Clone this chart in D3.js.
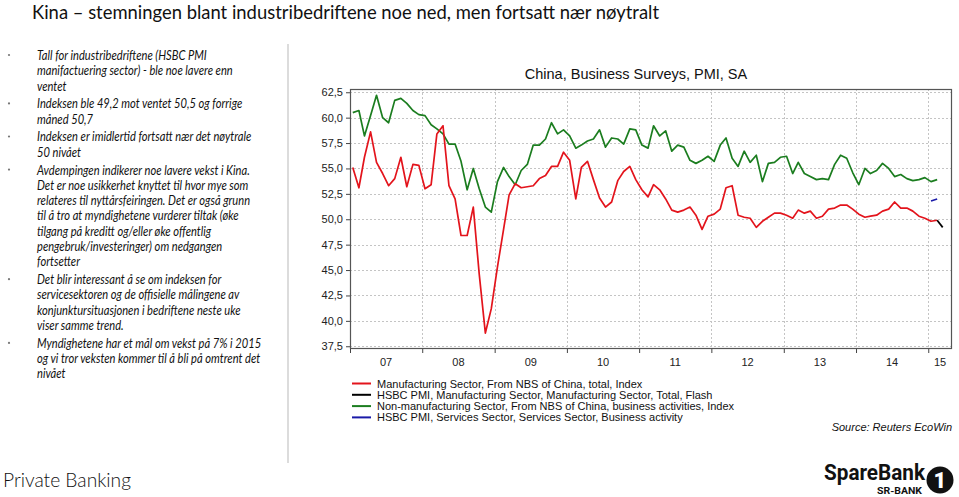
<!DOCTYPE html>
<html><head><meta charset="utf-8">
<script src="https://cdn.jsdelivr.net/npm/d3@7"></script>
<style>
html,body{margin:0;padding:0;background:#fff;}
svg{display:block;}
</style></head>
<body>
<svg id="c" width="959" height="497"></svg>
<script>
// ---------- DATA ----------
const firstMonth = "2007-01";
// Manufacturing Sector, From NBS of China, total, Index (Jan 2007 - Feb 2015)
const nbsManufacturing = [
  55.1, 53.1, 56.1, 58.6, 55.6, 54.5, 53.3, 54.0, 56.1, 53.2, 55.4, 55.3,
  53.0, 53.4, 58.4, 59.2, 53.3, 52.0, 48.4, 48.4, 51.2, 44.6, 38.8, 41.2,
  45.3, 49.0, 52.4, 53.5, 53.1, 53.2, 53.3, 54.0, 54.3, 55.2, 55.2, 56.6,
  55.8, 52.0, 55.1, 55.7, 53.9, 52.1, 51.2, 51.7, 53.8, 54.7, 55.2, 53.9,
  52.9, 52.2, 53.4, 52.9, 52.0, 50.9, 50.7, 50.9, 51.2, 50.4, 49.0, 50.3,
  50.5, 51.0, 53.1, 53.3, 50.4, 50.2, 50.1, 49.2, 49.8, 50.2, 50.6, 50.6,
  50.4, 50.1, 50.9, 50.6, 50.8, 50.1, 50.3, 51.0, 51.1, 51.4, 51.4, 51.0,
  50.5, 50.2, 50.3, 50.4, 50.8, 51.0, 51.7, 51.1, 51.1, 50.8, 50.3, 50.1,
  49.8, 49.9
];
// Non-manufacturing Sector, From NBS of China, business activities, Index
const nbsNonManufacturing = [
  60.5, 60.7, 58.2, 60.2, 62.2, 60.0, 59.5, 61.7, 61.9, 61.4, 60.7, 60.3,
  60.2, 59.3, 58.9, 58.4, 57.4, 57.4, 55.7, 52.9, 55.0, 53.0, 51.2, 50.7,
  53.7, 55.1, 54.2, 53.4, 54.8, 55.4, 57.3, 57.3, 57.9, 59.5, 58.4, 58.8,
  58.2, 57.0, 57.3, 57.7, 57.9, 58.8, 57.1, 58.0, 57.9, 57.4, 58.9, 58.8,
  57.3, 57.0, 59.2, 58.2, 58.7, 56.7, 57.3, 57.1, 55.8, 55.5, 55.8, 56.2,
  55.7, 57.3, 58.0, 56.0, 55.2, 56.7, 55.6, 56.3, 53.7, 55.5, 55.6, 56.1,
  56.2, 54.5, 55.6, 54.5, 54.2, 53.9, 54.0, 53.9, 55.4, 56.3, 56.0, 54.6,
  53.4, 55.0, 54.5, 54.8, 55.5, 55.0, 54.2, 54.4, 54.0, 53.8, 53.9, 54.1,
  53.7, 53.9
];
// HSBC PMI, Manufacturing Sector, Total, Flash
const hsbcFlashMonths = ["2015-02", "2015-03"];
const hsbcFlash = [49.9, 49.2];
// HSBC PMI, Services Sector, Business activity
const hsbcServicesMonths = ["2015-01", "2015-02"];
const hsbcServices = [51.8, 52.0];

const yearLabels = ["07", "08", "09", "10", "11", "12", "13", "14", "15"];
const yTickValues = [37.5, 40.0, 42.5, 45.0, 47.5, 50.0, 52.5, 55.0, 57.5, 60.0, 62.5];

const legendLabels = [
  "Manufacturing Sector, From NBS of China, total, Index",
  "HSBC PMI, Manufacturing Sector, Manufacturing Sector, Total, Flash",
  "Non-manufacturing Sector, From NBS of China, business activities, Index",
  "HSBC PMI, Services Sector, Services Sector, Business activity"
];
const legendColors = ["#e3141c", "#000000", "#1b7d1f", "#1a1aa8"];

const bullets = [
  ["Tall for industribedriftene (HSBC PMI", "manifactuering sector) - ble noe lavere enn", "ventet"],
  ["Indeksen ble 49,2 mot ventet 50,5 og forrige", "måned 50,7"],
  ["Indeksen er imidlertid fortsatt nær det nøytrale", "50 nivået"],
  ["Avdempingen indikerer noe lavere vekst i Kina.", "Det er noe usikkerhet knyttet til hvor mye som",
   "relateres til nyttårsfeiringen. Det er også grunn", "til å tro at myndighetene vurderer tiltak (øke",
   "tilgang på kreditt og/eller øke offentlig", "pengebruk/investeringer) om nedgangen", "fortsetter"],
  ["Det blir interessant å se om indeksen for", "servicesektoren og de offisielle målingene av",
   "konjunktursituasjonen i bedriftene neste uke", "viser samme trend."],
  ["Myndighetene har et mål om vekst på 7% i 2015", "og vi tror veksten kommer til å bli på omtrent det", "nivået"]
];

// ---------- LAYOUT ----------
const svg = d3.select("#c");
const parseMonth = d3.timeParse("%Y-%m");
const mid = d => d3.timeDay.offset(d, 14);
const start = parseMonth(firstMonth);
const monthsFrom = (n) => d3.range(n).map(i => mid(d3.timeMonth.offset(start, i)));

const plot = {left: 350, right: 952, top: 89, bottom: 349};
const x = d3.scaleTime()
  .domain([new Date(2007, 0, 1), new Date(2015, 4, 1)])
  .range([plot.left, plot.right]);
const y = d3.scaleLinear().domain([37.23, 62.82]).range([plot.bottom, plot.top]);

// Page title
svg.append("text").attr("x", 32).attr("y", 19)
  .attr("font-family", "Lato, 'Open Sans', sans-serif").attr("font-size", 20)
  .attr("fill", "#111")
  .attr("textLength", 627).attr("lengthAdjust", "spacingAndGlyphs")
  .text("Kina – stemningen blant industribedriftene noe ned, men fortsatt nær nøytralt");

// Left text: uniform horizontal scale calibrated on one reference line width
let ty = 56;
const bulletG = svg.append("g");
const lt = svg.append("g").attr("font-family", "Lato, 'Open Sans', sans-serif")
  .attr("font-size", 12.5).attr("font-style", "italic").attr("fill", "#111");
let calib = null;
bullets.forEach((b, bi) => {
  bulletG.append("circle").attr("cx", 9).attr("cy", ty - 1).attr("r", 1.1).attr("fill", "#777");
  b.forEach((line, li) => {
    const t = lt.append("text").attr("x", 0).attr("y", ty + 4).text(line);
    if (bi === 3 && li === 0) calib = t;
    ty += 15.3;
  });
  ty += 2.5;
});
const k = 213 / calib.node().getComputedTextLength();
lt.attr("transform", `translate(37,0) scale(${k},1)`);

// separator
svg.append("line").attr("x1", 288).attr("x2", 288).attr("y1", 44).attr("y2", 463)
  .attr("stroke", "#d0d0d0").attr("stroke-width", 1.5);

// Chart title
svg.append("text").attr("x", 636).attr("y", 79).attr("text-anchor", "middle")
  .attr("font-family", "'Liberation Sans', Arial, sans-serif").attr("font-size", 14.5)
  .attr("fill", "#111").text("China, Business Surveys, PMI, SA");

// Gridlines
const grid = svg.append("g").attr("stroke", "#c4c4c4").attr("stroke-dasharray", "2,2").attr("stroke-width", 1);
grid.selectAll(".h").data(yTickValues).join("line")
  .attr("x1", plot.left).attr("x2", plot.right)
  .attr("y1", d => Math.round(y(d)) + 0.5).attr("y2", d => Math.round(y(d)) + 0.5);
const yearStarts = yearLabels.map(l => new Date(2000 + (+l), 0, 1));
grid.selectAll(".v").data(yearStarts.slice(1)).join("line")
  .attr("x1", d => Math.round(x(d)) + 0.5).attr("x2", d => Math.round(x(d)) + 0.5)
  .attr("y1", plot.top).attr("y2", plot.bottom);

// Y axis
const yAxis = d3.axisLeft(y).tickValues(yTickValues).tickSize(4).tickPadding(3)
  .tickFormat(d => d3.format(".1f")(d).replace(".", ","));
const gy = svg.append("g").attr("transform", `translate(${plot.left},0)`).call(yAxis);
gy.select(".domain").remove();
gy.selectAll("text").attr("font-family", "'Liberation Sans', Arial, sans-serif").attr("font-size", 11).attr("fill", "#222");
gy.selectAll("line").attr("stroke", "#444");

// X axis ticks
const xAxis = d3.axisBottom(x).tickValues(yearStarts).tickSize(4).tickFormat("");
const gx = svg.append("g").attr("transform", `translate(0,${plot.bottom})`).call(xAxis);
gx.select(".domain").remove();
gx.selectAll("line").attr("stroke", "#444");
svg.append("g").selectAll("text").data(yearLabels).join("text")
  .attr("x", (l, i) => {
    const a = x(yearStarts[i]);
    const b = i + 1 < yearStarts.length ? x(yearStarts[i + 1]) : plot.right;
    return (a + b) / 2;
  })
  .attr("y", 366).attr("text-anchor", "middle")
  .attr("font-family", "'Liberation Sans', Arial, sans-serif").attr("font-size", 11).attr("fill", "#222")
  .text(d => d);

// Frame
svg.append("rect").attr("x", plot.left + 0.5).attr("y", plot.top + 0.5)
  .attr("width", plot.right - plot.left - 1).attr("height", plot.bottom - plot.top - 1)
  .attr("fill", "none").attr("stroke", "#555").attr("stroke-width", 1.2);

// Lines
const line = d3.line().x(d => x(d[0])).y(d => y(d[1]));
const series = [
  {dates: monthsFrom(nbsNonManufacturing.length), vals: nbsNonManufacturing, color: legendColors[2]},
  {dates: monthsFrom(nbsManufacturing.length), vals: nbsManufacturing, color: legendColors[0]},
  {dates: hsbcServicesMonths.map(m => mid(parseMonth(m))), vals: hsbcServices, color: legendColors[3]},
  {dates: hsbcFlashMonths.map(m => mid(parseMonth(m))), vals: hsbcFlash, color: legendColors[1]}
];
series.forEach(s => {
  svg.append("path").datum(d3.zip(s.dates, s.vals)).attr("d", line)
    .attr("fill", "none").attr("stroke", s.color).attr("stroke-width", 1.7)
    .attr("stroke-linejoin", "round");
});

// Legend
const lg = svg.append("g").attr("font-family", "'Liberation Sans', Arial, sans-serif").attr("font-size", 11).attr("fill", "#111");
legendLabels.forEach((t, i) => {
  const cy = 383.5 + i * 11.3;
  lg.append("line").attr("x1", 352).attr("x2", 371).attr("y1", cy).attr("y2", cy)
    .attr("stroke", legendColors[i]).attr("stroke-width", 2);
  lg.append("text").attr("x", 377).attr("y", cy + 4).text(t);
});
svg.append("text").attr("x", 952).attr("y", 431).attr("text-anchor", "end")
  .attr("font-family", "'Liberation Sans', Arial, sans-serif").attr("font-size", 11)
  .attr("font-style", "italic").attr("fill", "#111").text("Source: Reuters EcoWin");

// Footer
svg.append("text").attr("x", 3).attr("y", 487)
  .attr("font-family", "Lato, 'Open Sans', sans-serif").attr("font-size", 19).attr("font-weight", 300)
  .attr("fill", "#111").attr("textLength", 128).attr("lengthAdjust", "spacingAndGlyphs")
  .text("Private Banking");

// Logo
const logo = svg.append("g");
logo.append("text").attr("x", 824).attr("y", 480)
  .attr("font-family", "Roboto, 'Liberation Sans', sans-serif").attr("font-size", 22).attr("font-weight", 700)
  .attr("fill", "#111").attr("textLength", 101).attr("lengthAdjust", "spacingAndGlyphs").text("SpareBank");
logo.append("text").attr("x", 877).attr("y", 494)
  .attr("font-family", "Roboto, 'Liberation Sans', sans-serif").attr("font-size", 8.5).attr("font-weight", 700)
  .attr("fill", "#111").attr("textLength", 45).attr("lengthAdjust", "spacingAndGlyphs").text("SR-BANK");
logo.append("circle").attr("cx", 940).attr("cy", 480).attr("r", 13.5).attr("fill", "#111");
logo.append("text").attr("x", 940).attr("y", 488).attr("text-anchor", "middle")
  .attr("font-family", "Roboto, 'Liberation Sans', sans-serif").attr("font-size", 22).attr("font-weight", 900)
  .attr("fill", "#fff").text("1");
</script>
</body></html>
